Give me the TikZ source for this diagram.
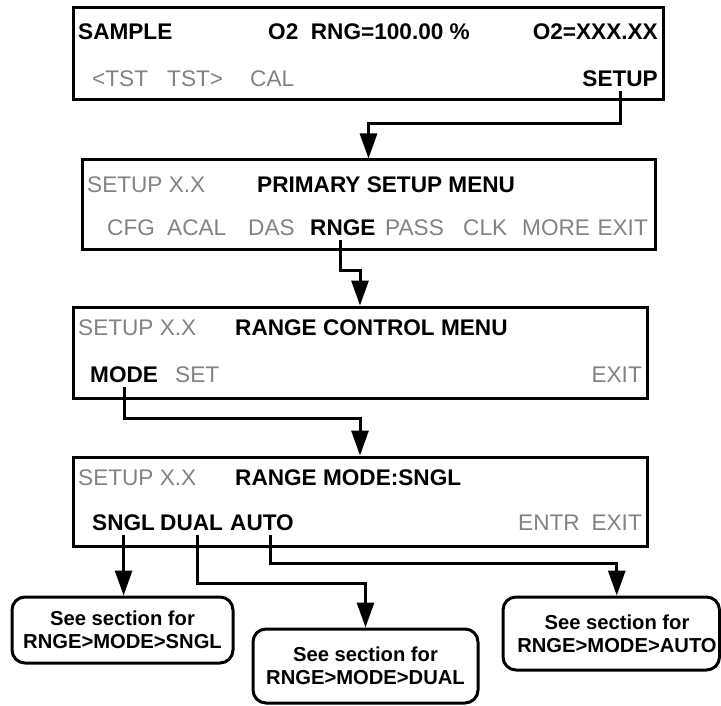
\documentclass[tikz,border=0pt]{standalone}
\usepackage{fontspec}
\setmainfont{Liberation Sans}
\usetikzlibrary{arrows.meta}

\definecolor{keygray}{RGB}{130,130,130}
\newcommand{\menusize}{\fontsize{22.6}{27}\selectfont}
\newcommand{\notesize}{\fontsize{20.2}{23}\selectfont}

\begin{document}
\begin{tikzpicture}[
  x=1pt, y=-1pt,
  screen/.style={draw=black, line width=3pt, inner sep=0pt},
  hotkey/.style={inner xsep=0pt, inner ysep=4pt, font=\menusize\bfseries, text=black},
  softkey/.style={inner xsep=0pt, inner ysep=4pt, font=\menusize, text=keygray},
  seebox/.style={draw=black, line width=3pt, rounded corners=13pt, align=center, font=\notesize\bfseries, inner sep=0pt},
  seetext/.style={align=center, font=\notesize\bfseries, inner sep=0pt},
  flow/.style={-{Triangle[length=25pt,width=17pt]}, line width=3pt, draw=black}
]
\useasboundingbox (0,0) rectangle (721,706);

% Display screens.
\node[screen, minimum width=590pt, minimum height=92pt] (scrSample) at (368,54) {};
\node[screen, minimum width=573pt, minimum height=90pt] (scrPrimary) at (368.5,205) {};
\node[screen, minimum width=574pt, minimum height=91pt] (scrRange) at (360,352.5) {};
\node[screen, minimum width=574pt, minimum height=89pt] (scrMode) at (360,501.5) {};

% Sample screen.
\node[hotkey, anchor=west] (keySample) at (78,32) {SAMPLE};
\node[hotkey, anchor=west] (keyRng) at (268,32) {O2\ \ RNG=100.00 \%};
\node[hotkey, anchor=east] (keyConc) at (658,32) {O2=XXX.XX};
\node[softkey, anchor=west] (keyTstL) at (92,79) {<TST};
\node[softkey, anchor=west] (keyTstR) at (167,79) {TST>};
\node[softkey, anchor=west] (keyCal) at (250,79) {CAL};
\node[hotkey, anchor=east] (keySetup) at (658,79) {SETUP};

% Primary setup menu.
\node[softkey, anchor=west] (verPrimary) at (87,185) {SETUP X.X};
\node[hotkey, anchor=west] (ttlPrimary) at (257,185) {PRIMARY SETUP MENU};
\foreach \x/\txt in {107/CFG,167/ACAL,248/DAS,385/PASS,463/CLK,522/MORE}{
  \node[softkey, anchor=west] (key\txt) at (\x,228) {\txt};
}
\node[hotkey, anchor=west] (keyRnge) at (310,228) {RNGE};
\node[softkey, anchor=east] (keyExitA) at (648,228) {EXIT};

% Range control menu.
\node[softkey, anchor=west] (verRange) at (78,328) {SETUP X.X};
\node[hotkey, anchor=west] (ttlRange) at (235,328) {RANGE CONTROL MENU};
\node[hotkey, anchor=west] (keyMode) at (90,375) {MODE};
\node[softkey, anchor=west] (keySet) at (175,375) {SET};
\node[softkey, anchor=east] (keyExitB) at (642,375) {EXIT};

% Range mode screen.
\node[softkey, anchor=west] (verMode) at (78,478) {SETUP X.X};
\node[hotkey, anchor=west] (ttlMode) at (235,478) {RANGE MODE:SNGL};
\node[hotkey, anchor=west] (keySngl) at (92,523) {SNGL};
\node[hotkey, anchor=west] (keyDual) at (160,523) {DUAL};
\node[hotkey, anchor=west] (keyAuto) at (230,523) {AUTO};
\node[softkey, anchor=west] (keyEntr) at (518,523) {ENTR};
\node[softkey, anchor=east] (keyExitC) at (642,523) {EXIT};

% Cross references.
\node[seebox, minimum width=221pt, minimum height=66pt] (boxSngl) at (122.5,630)
  {See section for\\RNGE>MODE>SNGL};
\node[seebox, minimum width=225pt, minimum height=74pt] (boxDual) at (365.5,666)
  {See section for\\RNGE>MODE>DUAL};
\node[seebox, minimum width=216.5pt, minimum height=73pt] (boxAuto) at (611.25,633.5) {};
\node[seetext] (noteAuto) at (617,633.5) {See section for\\RNGE>MODE>AUTO};

% Key presses.
\draw[flow] (keySetup.south) -- ++(0,32) -| (scrPrimary.north);
\draw[flow] ([xshift=-2pt]keyRnge.south) -- ++(0,30) -| (scrRange.north);
\draw[flow] (keyMode.south) -- ++(0,31) -| (scrMode.north);
\draw[flow] (keySngl.south) -- (keySngl.south |- boxSngl.north);
\draw[flow] ([xshift=5.5pt]keyDual.south) -- ++(0,48) -| (boxDual.north);
\draw[flow] ([xshift=8pt]keyAuto.south) -- ++(0,28) -| ([xshift=5.5pt]boxAuto.north);

\end{tikzpicture}
\end{document}
